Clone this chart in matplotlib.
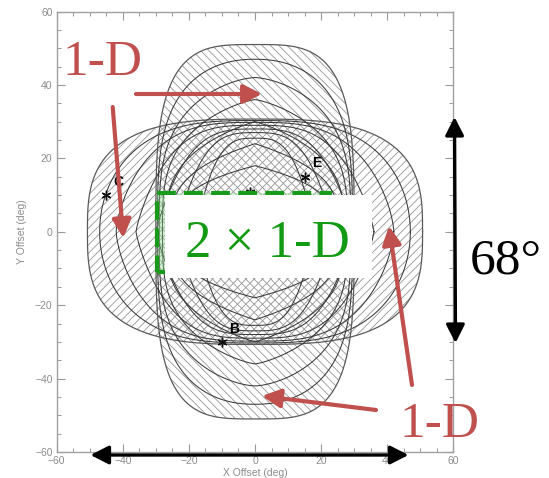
import numpy as np
import matplotlib
matplotlib.use('Agg')
import matplotlib.pyplot as plt
from matplotlib.patches import Polygon, Rectangle, FancyArrowPatch
from matplotlib.ticker import MultipleLocator

# ---- data ----
tall_a = [30, 29.5, 29, 28, 27, 25.5, 24]
tall_b = [51, 47, 42, 36, 30, 24, 18]
tall_ex = [3.5, 2.2, 1.6, 1.3, 1.1, 1.0, 1.0]
tall_ey = [3.5, 3.5, 3.4, 3.3, 3.2, 3.2, 3.2]

wide_a = [50.7, 47, 42, 36, 30, 24, 18]
wide_b = [30.7, 30.3, 29.8, 29, 28, 27, 25.5]
wide_ex = [3.0, 3.0, 3.1, 3.2, 3.2, 3.2, 3.2]
wide_ey = [3.0, 2.0, 1.5, 1.2, 1.05, 1.0, 1.0]

star_labels = ['C', 'E', 'B', '']
star_x = [-45, 15, -10, -1.5]
star_y = [10, 15, -30, 10.8]
label_dx = [3.6, 3.6, 3.7, 0]
label_dy = [3.6, 3.6, 3.6, 0]

ticks = [-60, -40, -20, 0, 20, 40, 60]

W, H = 549, 478


def shape(a, b, ex, ey, n=800):
    t = np.linspace(0, 2 * np.pi, n)
    c, s = np.cos(t), np.sin(t)
    x = a * np.sign(c) * np.abs(c) ** (2.0 / ex)
    y = b * np.sign(s) * np.abs(s) ** (2.0 / ey)
    return x, y


def fx(p):
    return p / W


def fy(p):
    return 1 - p / H


plt.rcParams['hatch.linewidth'] = 0.6
fig = plt.figure(figsize=(W / 100, H / 100), dpi=100)
ax = fig.add_axes([fx(56.7), fy(452), (453.3 - 56.7) / W, (452 - 11.5) / H])
ax.set_xlim(-60, 60)
ax.set_ylim(-60, 60)

# hatched regions
x, y = shape(wide_a[0], wide_b[0], wide_ex[0], wide_ey[0])
ax.add_patch(Polygon(np.column_stack([x, y]), closed=True, facecolor='none',
                     edgecolor='#959595', hatch='////', lw=0, zorder=1))
x, y = shape(tall_a[0], tall_b[0], tall_ex[0], tall_ey[0])
ax.add_patch(Polygon(np.column_stack([x, y]), closed=True, facecolor='none',
                     edgecolor='#959595', hatch='\\\\\\\\', lw=0, zorder=1))

# contour lines
for k in range(len(wide_a)):
    x, y = shape(wide_a[k], wide_b[k], wide_ex[k], wide_ey[k])
    ax.plot(x, y, color='#5a5a5a' if k == 0 else '#3a3a3a', lw=0.9 if k == 0 else 0.75, zorder=2)
for k in range(len(tall_a)):
    x, y = shape(tall_a[k], tall_b[k], tall_ex[k], tall_ey[k])
    ax.plot(x, y, color='#5a5a5a' if k == 0 else '#3a3a3a', lw=0.9 if k == 0 else 0.75, zorder=2)

# stars
for lab, sx, sy, dx, dy in zip(star_labels, star_x, star_y, label_dx, label_dy):
    ax.plot([sx], [sy], marker=(6, 2, 0), ms=7, mew=1.0, color='#111111', zorder=3)
    if lab:
        ax.text(sx + dx, sy + dy, lab, fontsize=10, fontweight='bold', color='black',
                ha='center', va='center', family='Liberation Sans', zorder=3)

ax.set_xticks(ticks)
ax.set_yticks(ticks)
ax.xaxis.set_minor_locator(MultipleLocator(5))
ax.yaxis.set_minor_locator(MultipleLocator(5))
ax.tick_params(which='both', direction='in', top=True, right=True, color='#999999',
               labelcolor='#8c8c8c', labelsize=7.5, pad=3)
ax.tick_params(which='major', length=6, width=0.8)
ax.tick_params(which='minor', length=3, width=0.7)
for sp in ax.spines.values():
    sp.set_color('#a0a0a0')
    sp.set_linewidth(1.0)
for lbl in ax.get_xticklabels() + ax.get_yticklabels():
    lbl.set_family('Liberation Sans')
ax.set_xlabel('X Offset (deg)', fontsize=7.5, color='#8c8c8c', family='Liberation Sans', labelpad=1)
ax.set_ylabel('Y Offset (deg)', fontsize=7.5, color='#8c8c8c', family='Liberation Sans', labelpad=6)

# green dashed region and white label box
fig.add_artist(Rectangle((fx(157), fy(272)), fx(330) - fx(157), fy(193) - fy(272),
                         transform=fig.transFigure, facecolor=(0.55, 0.85, 0.55, 0.4),
                         edgecolor='#1a9a1a', lw=3, linestyle=(0, (4.5, 2)), zorder=5))
fig.add_artist(Rectangle((fx(165), fy(278)), fx(372) - fx(165), fy(195) - fy(278),
                         transform=fig.transFigure, facecolor='white', edgecolor='none', zorder=6))
fig.text(fx(267.5), fy(257), '2 \u00d7 1-D', color='#139a13', fontsize=38,
         family='Liberation Serif', ha='center', va='baseline', zorder=7)

# red labels and arrows
red = '#c0504d'
fig.text(fx(102.5), fy(75), '1-D', color=red, fontsize=37, family='Liberation Serif',
         ha='center', va='baseline', zorder=7)
fig.text(fx(439), fy(437), '1-D', color=red, fontsize=37, family='Liberation Serif',
         ha='center', va='baseline', zorder=7)
red_arrows = [((136, 94), (262, 94)), ((112.7, 107), (123.3, 238)),
              ((412, 385), (389, 226)), ((376, 410), (262, 396))]
for (p0, p1) in red_arrows:
    fig.add_artist(FancyArrowPatch((fx(p0[0]), fy(p0[1])), (fx(p1[0]), fy(p1[1])),
                                   transform=fig.transFigure,
                                   arrowstyle='-|>,head_length=0.55,head_width=0.28',
                                   mutation_scale=20, lw=3, color=red,
                                   shrinkA=0, shrinkB=0, zorder=8))

# black double arrows and 68 degree label
fig.add_artist(FancyArrowPatch((fx(454.5), fy(117)), (fx(455.5), fy(343)),
                               transform=fig.transFigure,
                               arrowstyle='<|-|>,head_length=0.55,head_width=0.28',
                               mutation_scale=20, lw=2.4, color='black',
                               shrinkA=0, shrinkB=0, zorder=8))
fig.add_artist(FancyArrowPatch((fx(90.5), fy(455)), (fx(408.5), fy(455)),
                               transform=fig.transFigure,
                               arrowstyle='<|-|>,head_length=0.55,head_width=0.28',
                               mutation_scale=20, lw=2.4, color='black',
                               shrinkA=0, shrinkB=0, zorder=8))
fig.text(fx(506), fy(273), '68\u00b0', color='black', fontsize=37, family='Liberation Serif',
         ha='center', va='baseline', zorder=7)

fig.savefig('out.png', dpi=100)
